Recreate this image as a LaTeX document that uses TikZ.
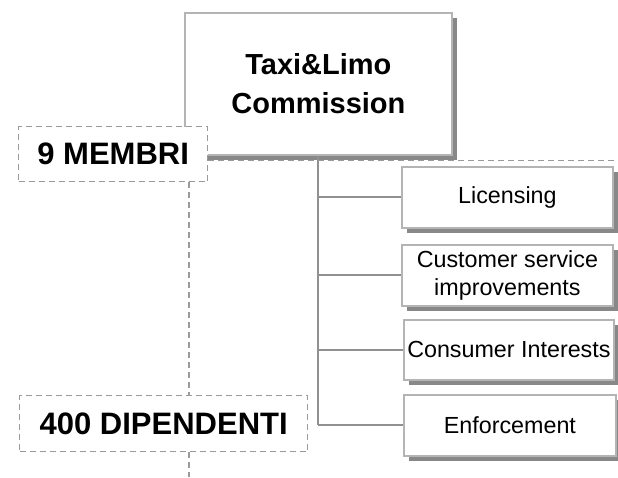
\documentclass[tikz,border=0pt]{standalone}
\usepackage{fontspec}
\setmainfont{Liberation Sans}
\usetikzlibrary{shadows}
\definecolor{boxline}{HTML}{B4B4B4}
\definecolor{shadowgray}{HTML}{888888}
\definecolor{connline}{HTML}{909090}
\definecolor{dashline}{HTML}{9A9A9A}
\tikzset{
  orgbox/.style={draw=boxline, line width=1.8pt, fill=white, inner sep=0pt, anchor=north west,
    align=center,
    drop shadow={shadow xshift=5.5pt, shadow yshift=-5.5pt, fill=shadowgray, opacity=1}},
  countbox/.style={draw=dashline, line width=1.4pt, dash pattern=on 6pt off 4pt, fill=white,
    inner sep=0pt, anchor=north west, align=center,
    font=\fontsize{31}{36}\selectfont\bfseries},
  conn/.style={draw=connline, line width=2pt},
  dconn/.style={draw=dashline, line width=1.4pt, dash pattern=on 6pt off 4pt},
  subfont/.style={font=\fontsize{23.3}{27.5}\selectfont}
}
\begin{document}
\begin{tikzpicture}[x=1pt,y=-1pt]
\useasboundingbox (0,0) rectangle (618,477);
% main box
\node[orgbox, minimum width=267pt, minimum height=142pt,
  font=\fontsize{29}{39}\selectfont\bfseries] (main) at (184,12) {Taxi\&Limo\\Commission};
% sub boxes
\node[orgbox, subfont, minimum width=211pt, minimum height=61pt] (lic) at (401,166) {Licensing};
\node[orgbox, subfont, minimum width=211pt, minimum height=61pt] (cus) at (401,244) {Customer service\\improvements};
\node[orgbox, subfont, minimum width=210pt, minimum height=60pt] (con) at (403,319) {Consumer Interests};
\node[orgbox, subfont, minimum width=212pt, minimum height=61pt] (enf) at (403,394) {Enforcement};
% solid connectors
\draw[conn] (main.south) -- (main.south |- enf.west);
\draw[conn] (main.south |- lic.west) -- (lic.west);
\draw[conn] (main.south |- cus.west) -- (cus.west);
\draw[conn] (main.south |- con.west) -- (con.west);
\draw[conn] (main.south |- enf.west) -- (enf.west);
% dashed count boxes
\node[countbox, minimum width=189pt, minimum height=55pt] (m9) at (18,126) {9 MEMBRI};
\coordinate (dr) at (618,160.5);
\draw[dconn] (m9.east |- dr) -- (dr);
\node[countbox, minimum width=288pt, minimum height=56pt] (d400) at (19,395) {400 DIPENDENTI};
\coordinate (vx) at (189,0);
\coordinate (vb) at (189,477);
\draw[dconn] (m9.south -| vx) -- (d400.north -| vx);
\draw[dconn] (d400.south -| vx) -- (vb);
\end{tikzpicture}
\end{document}
